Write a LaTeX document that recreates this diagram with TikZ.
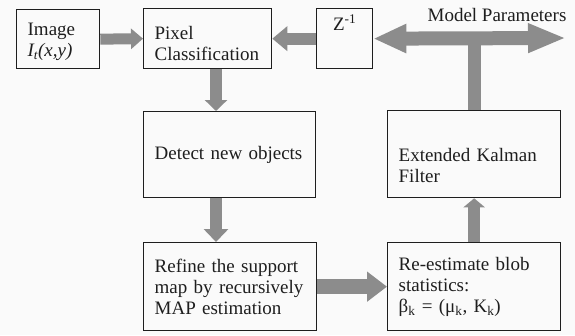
\documentclass[tikz,border=0pt]{standalone}
\usepackage{fontspec}
\setmainfont{Liberation Serif}
\usetikzlibrary{arrows.meta}
\definecolor{arrowgray}{RGB}{140,140,140}
\definecolor{inkc}{RGB}{30,30,30}
\definecolor{bgc}{RGB}{250,250,250}
\begin{document}
\begin{tikzpicture}[x=1pt,y=-1pt,
  box/.style={draw=inkc, line width=1.3pt, anchor=north west, inner xsep=11pt, inner ysep=0pt,
    align=left, font=\fontsize{19}{21}\selectfont, text=inkc},
  arr/.style={draw=arrowgray, line width=12pt, -{Triangle[width=22pt,length=11pt]}},
  stem/.style={draw=arrowgray, line width=13pt},
  dbl/.style={draw=arrowgray, line width=14pt,
    {Triangle[width=27pt,length=33pt]}-{Triangle[width=27pt,length=38pt]}},
  lbl/.style={font=\fontsize{19}{21}\selectfont, text=inkc, inner sep=0pt}]
\fill[bgc] (0,0) rectangle (575,335);
\useasboundingbox (0,0) rectangle (575,335);

\node[box, text width=61pt, minimum height=59pt] (img) at (16,9)
  {\rule{0pt}{18pt}Image\\\textit{I\textsubscript{t}(x,y)}};
\node[box, text width=106pt, minimum height=60pt] (pix) at (143,8)
  {\rule{0pt}{22pt}Pixel\\Classification};
\node[box, text width=34pt, align=center, minimum height=60pt] (z) at (316,8)
  {\rule[-32pt]{0pt}{32pt}Z\textsuperscript{-1}};
\node[box, text width=150pt, minimum height=86pt] (det) at (143,111)
  {Detect new objects};
\node[box, text width=151pt, minimum height=88pt] (ref) at (143,242)
  {Refine the support\\map by recursively\\MAP estimation};
\node[box, text width=151pt, minimum height=88pt] (re) at (387,242)
  {Re-estimate blob\\statistics:\\β\textsubscript{k} = (μ\textsubscript{k}, K\textsubscript{k})};
\node[box, text width=151pt, minimum height=87pt] (kal) at (387,110)
  {\rule{0pt}{36pt}Extended Kalman\\Filter};
\node[lbl] (mp) at (497,15) {Model Parameters};
\coordinate (mpr) at (566,38);
\coordinate (cx) at (216,0);

\draw[arr, -{Triangle[width=20pt,length=12pt]}, line width=11pt] (img.east) -- (pix.west);
\draw[arr, -{Triangle[width=24pt,length=15pt]}] (z.west) -- (pix.east);
\draw[arr] (pix.south -| cx) -- (det.north -| cx);
\draw[arr, -{Triangle[width=24pt,length=13pt]}] (det.south -| cx) -- (ref.north -| cx);
\draw[arr, line width=15pt, -{Triangle[width=29pt,length=20pt]}] (ref.east) -- (re.west);
\draw[arr, -{Triangle[width=21pt,length=9pt]}] (re.north) -- (kal.south);
\draw[stem] (kal.north) -- (kal.north |- z.east);
\draw[dbl] (z.east) -- (mpr);
\end{tikzpicture}
\end{document}
